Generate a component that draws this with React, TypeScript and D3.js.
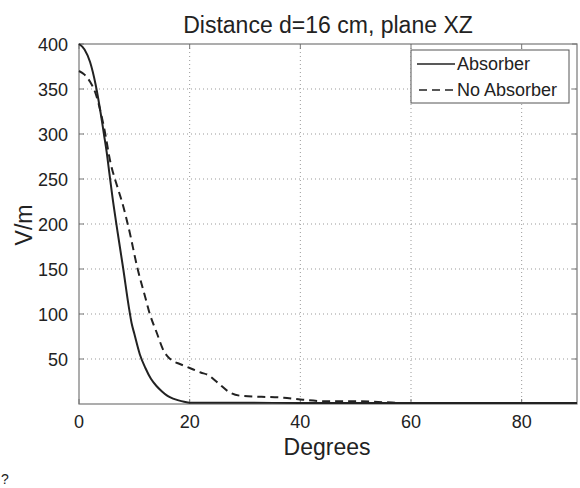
import React from "react";
import * as d3 from "d3";

const absorberDeg = [0, 1, 2, 3, 4, 4.5, 5, 5.5, 6, 7, 8, 9, 9.5, 10, 11, 12, 13, 14, 15, 16, 17, 18, 19, 20, 25, 30, 40, 50, 60, 70, 80, 90];
const absorberVal = [400, 394, 380, 355, 320, 300, 280, 256, 232, 190, 150, 108, 90, 78, 55, 40, 28, 20, 14, 9, 6, 4, 2.5, 1.5, 1.5, 1.5, 1, 1, 1, 1, 1, 1];

const noAbsDeg = [0, 1, 2, 3, 4, 4.5, 5.7, 7, 7.8, 9, 10.6, 12, 12.8, 14, 15.4, 16, 17.2, 18, 20, 22, 23.4, 25, 27.5, 29.4, 33, 37, 40, 45, 50, 55, 60, 70, 80, 90];
const noAbsVal = [370, 366, 358, 345, 322, 308, 268, 240, 224, 195, 150, 118, 100, 80, 58, 53, 47, 45, 40, 35, 32, 24, 12, 9, 8, 7, 5, 3, 3, 2, 1, 1, 1, 1];

const xTicks = [0, 20, 40, 60, 80];
const yTicks = [50, 100, 150, 200, 250, 300, 350, 400];
const yGrid = [50, 100, 150, 200, 250, 300, 350];
const xGrid = [20, 40, 60, 80];

const title = "Distance d=16 cm, plane XZ";
const xLabel = "Degrees";
const yLabel = "V/m";
const legendLabels = ["Absorber", "No Absorber"];

export default function App() {
  const left = 79, right = 577, top = 44, bottom = 404;
  const x = d3.scaleLinear().domain([0, 90]).range([left, right]);
  const y = d3.scaleLinear().domain([0, 400]).range([bottom, top]);
  const line = d3.line<[number, number]>().x(d => x(d[0])).y(d => y(d[1])).curve(d3.curveMonotoneX);
  const absPts = absorberDeg.map((d, i) => [d, absorberVal[i]] as [number, number]);
  const noPts = noAbsDeg.map((d, i) => [d, noAbsVal[i]] as [number, number]);
  const font = "Arial, 'Liberation Sans', Helvetica, sans-serif";
  const axisCol = "#777";
  return (
    <svg width={580} height={488} style={{ position: "absolute", left: 0, top: 0, background: "#fff" }} fontFamily={font}>
      <rect x={0} y={0} width={580} height={488} fill="#fff" />
      {yGrid.map(v => (
        <line key={"gy" + v} x1={left} x2={right} y1={y(v)} y2={y(v)} stroke="#999" strokeWidth={1} strokeDasharray="1,3" />
      ))}
      {xGrid.map(v => (
        <line key={"gx" + v} x1={x(v)} x2={x(v)} y1={top} y2={bottom} stroke="#999" strokeWidth={1} strokeDasharray="1,3" />
      ))}
      <rect x={left} y={top} width={right - left} height={bottom - top} fill="none" stroke={axisCol} strokeWidth={1.2} />
      {xTicks.map(v => (
        <g key={"xt" + v}>
          <line x1={x(v)} x2={x(v)} y1={bottom} y2={bottom - 5} stroke={axisCol} />
          <line x1={x(v)} x2={x(v)} y1={top} y2={top + 5} stroke={axisCol} />
          <text x={x(v)} y={428} fontSize={18} textAnchor="middle" fill="#222">{v}</text>
        </g>
      ))}
      {yTicks.map(v => (
        <g key={"yt" + v}>
          <line x1={left} x2={left + 5} y1={y(v)} y2={y(v)} stroke={axisCol} />
          <line x1={right} x2={right - 5} y1={y(v)} y2={y(v)} stroke={axisCol} />
          <text x={68} y={y(v) + 6.5} fontSize={18} textAnchor="end" fill="#222">{v}</text>
        </g>
      ))}
      <path d={line(noPts) || ""} fill="none" stroke="#222" strokeWidth={2} strokeDasharray="8,5" />
      <path d={line(absPts) || ""} fill="none" stroke="#222" strokeWidth={2} />
      <text x={328} y={33} fontSize={23} textAnchor="middle" fill="#222">{title}</text>
      <text x={327} y={455} fontSize={23} textAnchor="middle" fill="#222">{xLabel}</text>
      <text transform={`translate(32,225) rotate(-90)`} fontSize={23} textAnchor="middle" fill="#222">{yLabel}</text>
      <rect x={411} y={50} width={158} height={53} fill="#fff" stroke="#555" strokeWidth={1} />
      <line x1={417} x2={455} y1={64} y2={64} stroke="#222" strokeWidth={1.5} />
      <text x={457} y={70} fontSize={18} fill="#222">{legendLabels[0]}</text>
      <line x1={419} x2={455} y1={90} y2={90} stroke="#222" strokeWidth={1.5} strokeDasharray="8,5" />
      <text x={457} y={96} fontSize={18} fill="#222">{legendLabels[1]}</text>
      <text x={1} y={484} fontSize={14} fill="#222">?</text>
    </svg>
  );
}
